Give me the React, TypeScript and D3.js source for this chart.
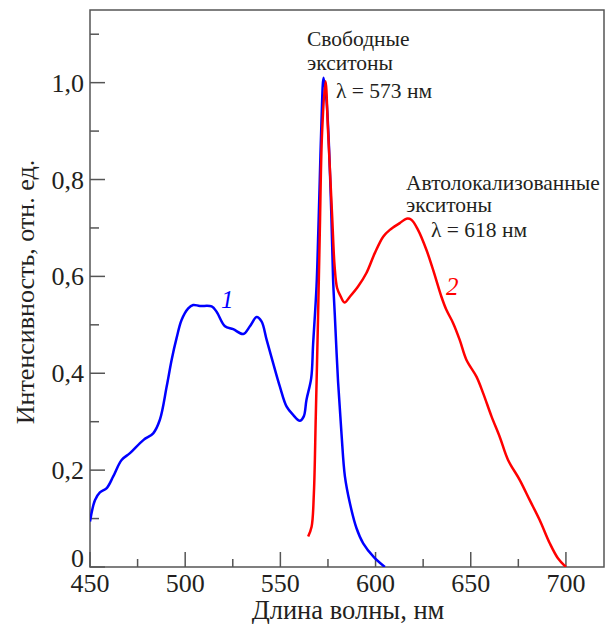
import React from "react";
import * as d3 from "d3";

const xTicksMajor = [450, 500, 550, 600, 650, 700];
const xTicksMinor = [475, 525, 575, 625, 675];
const yTicksMajor = [0, 0.2, 0.4, 0.6, 0.8, 1.0];
const yTicksMinor = [0.1, 0.3, 0.5, 0.7, 0.9, 1.1];
const yTickLabels = ["0", "0,2", "0,4", "0,6", "0,8", "1,0"];

const blueX = [450, 452.6, 455.2, 458.8, 462.2, 466.6, 471, 478, 483.2, 486.7, 490.3, 492.9, 495.5, 498.1, 501.6, 504.2, 507.7, 513.9, 516.5, 520.9, 525.2, 530.5, 534, 537.5, 540.1, 542.8, 546.2, 549.7, 553.3, 556.7, 560.2, 562.3, 563.7, 566.2, 567.2, 569, 569.9, 570.7, 571.6, 572.7, 574.2, 575.6, 576.8, 577.7, 578.6, 580.3, 582.1, 583.9, 586.5, 590, 593.5, 599, 604.9];
const blueY = [0.094, 0.138, 0.154, 0.163, 0.187, 0.221, 0.235, 0.262, 0.276, 0.304, 0.373, 0.428, 0.473, 0.51, 0.534, 0.541, 0.539, 0.538, 0.527, 0.497, 0.491, 0.481, 0.497, 0.516, 0.507, 0.469, 0.421, 0.373, 0.331, 0.314, 0.302, 0.311, 0.345, 0.39, 0.46, 0.58, 0.689, 0.8, 0.92, 1.01, 0.965, 0.862, 0.724, 0.593, 0.52, 0.383, 0.276, 0.187, 0.132, 0.08, 0.049, 0.021, 0];

const redX = [564.6, 566.4, 567.6, 568.6, 569.8, 570.7, 571.9, 573.7, 575.1, 577.2, 578.5, 579.8, 581.5, 583.7, 586.5, 590.8, 595.2, 599.6, 604, 607.5, 612.7, 616.2, 618.8, 622.3, 626.7, 630.2, 634.6, 637.2, 640.7, 644.2, 647.7, 653, 656.5, 660.9, 665.2, 669.6, 675.7, 681, 686.2, 691.5, 695.8, 700];
const redY = [0.063, 0.083, 0.152, 0.311, 0.517, 0.689, 0.896, 1.003, 0.896, 0.724, 0.62, 0.576, 0.56, 0.546, 0.558, 0.579, 0.607, 0.648, 0.682, 0.696, 0.71, 0.719, 0.717, 0.696, 0.655, 0.614, 0.558, 0.531, 0.504, 0.469, 0.428, 0.393, 0.359, 0.311, 0.269, 0.221, 0.18, 0.138, 0.097, 0.049, 0.018, 0];

const FONT = "Liberation Serif, DejaVu Serif, serif";
const TEXT = "#231f20";
const AXIS = "#555";

export default function App() {
  const W = 608, H = 624;
  const left = 90, right = 604, top = 10, bottom = 567;
  const x = d3.scaleLinear().domain([450, 720]).range([left, right]);
  const y = d3.scaleLinear().domain([0, 1.15]).range([bottom, top]);
  const line = d3
    .line<[number, number]>()
    .x((d) => x(d[0]))
    .y((d) => y(d[1]))
    .curve(d3.curveCatmullRom.alpha(0.5));
  const blue = blueX.map((v, i) => [v, blueY[i]] as [number, number]);
  const red = redX.map((v, i) => [v, redY[i]] as [number, number]);
  const ts = { fontFamily: FONT };

  return (
    <svg width={W} height={H} style={{ position: "absolute", left: 0, top: 0, background: "#fff", fontFamily: FONT }}>
      <rect x={0} y={0} width={W} height={H} fill="#fff" />
      <defs>
        <clipPath id="plot">
          <rect x={left} y={top} width={right - left} height={bottom - top} />
        </clipPath>
      </defs>
      <rect x={left} y={top} width={right - left} height={bottom - top} fill="none" stroke={AXIS} strokeWidth={1.5} />
      {xTicksMajor.map((t) => (
        <line key={"xm" + t} x1={x(t)} x2={x(t)} y1={bottom} y2={bottom - 15} stroke={AXIS} strokeWidth={1.5} />
      ))}
      {xTicksMinor.map((t) => (
        <line key={"xn" + t} x1={x(t)} x2={x(t)} y1={bottom} y2={bottom - 8} stroke={AXIS} strokeWidth={1.5} />
      ))}
      {yTicksMajor.map((t) => (
        <line key={"ym" + t} x1={left} x2={left + 15} y1={y(t)} y2={y(t)} stroke={AXIS} strokeWidth={1.5} />
      ))}
      {yTicksMinor.map((t) => (
        <line key={"yn" + t} x1={left} x2={left + 9} y1={y(t)} y2={y(t)} stroke={AXIS} strokeWidth={1.5} />
      ))}
      {xTicksMajor.map((t) => (
        <text key={"xl" + t} style={ts} x={x(t)} y={592} textAnchor="middle" fontSize={26} fill={TEXT}>
          {t}
        </text>
      ))}
      {yTicksMajor.map((t, i) => (
        <text key={"yl" + t} style={ts} x={84} y={y(t) + (t === 0 ? 0 : 9)} textAnchor="end" fontSize={26} fill={TEXT}>
          {yTickLabels[i]}
        </text>
      ))}
      <text style={ts} x={348} y={619} textAnchor="middle" fontSize={26.5} fill={TEXT}>
        Длина волны, нм
      </text>
      <text style={ts} transform="translate(34,292) rotate(-90)" textAnchor="middle" fontSize={26} fill={TEXT}>
        Интенсивность, отн. ед.
      </text>
      <g clipPath="url(#plot)">
        <path d={line(blue) || ""} fill="none" stroke="#0000ff" strokeWidth={2.5} strokeLinejoin="round" />
        <path d={line(red) || ""} fill="none" stroke="#ff0000" strokeWidth={2.5} strokeLinejoin="round" />
      </g>
      <text style={ts} x={307} y={46} fontSize={21.5} fill={TEXT}>Свободные</text>
      <text style={ts} x={307} y={70} fontSize={21.5} fill={TEXT}>экситоны</text>
      <text style={ts} x={336} y={98} fontSize={21.5} fill={TEXT}>λ = 573 нм</text>
      <text style={ts} x={406} y={190} fontSize={21.5} fill={TEXT}>Автолокализованные</text>
      <text style={ts} x={406} y={212} fontSize={21.5} fill={TEXT}>экситоны</text>
      <text style={ts} x={431} y={237} fontSize={21.5} fill={TEXT}>λ = 618 нм</text>
      <text style={ts} x={221} y={308} fontSize={25} fontStyle="italic" fill="#0000ff">1</text>
      <text style={ts} x={446} y={295} fontSize={25} fontStyle="italic" fill="#ff0000">2</text>
    </svg>
  );
}
